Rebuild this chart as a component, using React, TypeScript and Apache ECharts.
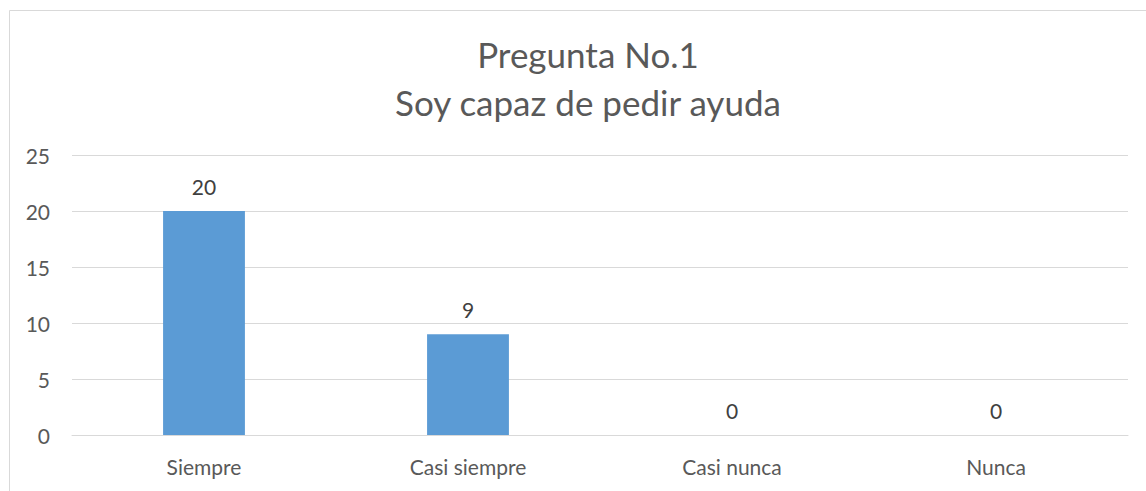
import React, { useEffect, useRef } from "react";
import * as echarts from "echarts";

const titleLines = ["Pregunta No.1", "Soy capaz de pedir ayuda"];
const categories = ["Siempre", "Casi siempre", "Casi nunca", "Nunca"];
const values = [20, 9, 0, 0];
const yMin = 0;
const yMax = 25;
const yInterval = 5;

const FONT = "Lato, 'Open Sans', sans-serif";

export default function App() {
  const ref = useRef<HTMLDivElement>(null);
  useEffect(() => {
    if (!ref.current) return;
    const chart = echarts.init(ref.current, null, { renderer: "svg" });
    chart.setOption({
      animation: false,
      backgroundColor: "#ffffff",
      title: {
        text: titleLines.join("\n"),
        left: 583,
        textAlign: "center",
        top: 25,
        textStyle: {
          fontFamily: FONT,
          fontSize: 35,
          fontWeight: "normal",
          color: "#595959",
          lineHeight: 48,
        },
      },
      graphic: [
        {
          type: "rect",
          shape: { x: 9.5, y: 10.5, width: 1200, height: 600 },
          style: { fill: "none", stroke: "#d9d9d9", lineWidth: 1 },
          silent: true,
          z: -1,
        },
      ],
      grid: { left: 72, right: 18, top: 155, bottom: 56 },
      xAxis: {
        type: "category",
        data: categories,
        axisLine: { show: true, lineStyle: { color: "#d9d9d9" } },
        axisTick: { show: false },
        axisLabel: {
          fontFamily: FONT,
          fontSize: 21,
          color: "#595959",
          margin: 21,
        },
      },
      yAxis: {
        type: "value",
        min: yMin,
        max: yMax,
        interval: yInterval,
        axisLine: { show: false },
        axisTick: { show: false },
        splitLine: { lineStyle: { color: "#d9d9d9" } },
        axisLabel: {
          fontFamily: FONT,
          fontSize: 21,
          color: "#595959",
          margin: 22,
          align: "right",
        },
      },
      series: [
        {
          type: "bar",
          data: values,
          barWidth: "31%",
          itemStyle: { color: "#5b9bd5" },
          label: {
            show: true,
            position: "top",
            distance: 14,
            fontFamily: FONT,
            fontSize: 21,
            color: "#404040",
          },
        },
      ],
    });
    return () => chart.dispose();
  }, []);
  return (
    <div
      ref={ref}
      style={{ position: "fixed", left: 0, top: 0, width: 1146, height: 491 }}
    />
  );
}
